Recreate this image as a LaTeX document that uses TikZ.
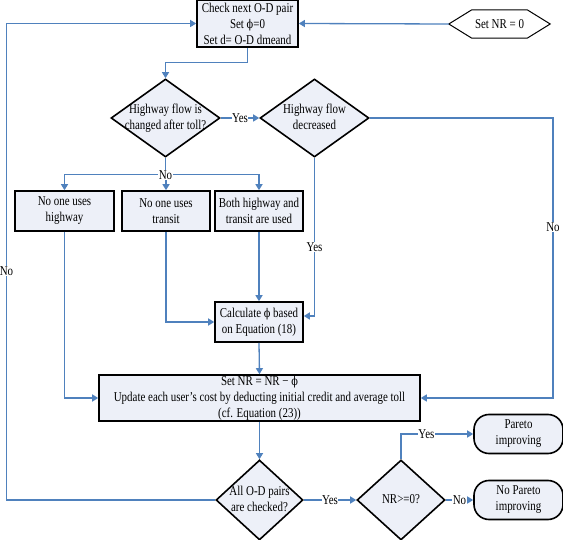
\documentclass[tikz,border=0pt]{standalone}
\usepackage{fontspec}
\setmainfont{Liberation Serif}[FakeStretch=0.81]
\newfontfamily\phifont{DejaVu Serif}[FakeStretch=0.81]
\usetikzlibrary{shapes.geometric,arrows.meta}
\definecolor{flowblue}{HTML}{4F81BD}
\definecolor{boxfill}{HTML}{EDF0F8}
\newcommand{\uphi}{{\phifont\fontsize{12}{16}\selectfont ϕ}}
\newcommand{\dtxt}[1]{\makebox[0pt]{\raisebox{-1.1ex}{\smash{\begin{tabular}{@{}c@{}}#1\end{tabular}}}}}
\begin{document}
\begin{tikzpicture}[x=1pt, y=-1pt, font=\fontsize{13.5}{16}\selectfont,
  procbox/.style={draw=black, line width=1.6pt, fill=boxfill, rectangle, align=center, inner sep=0pt},
  decision/.style={draw=black, line width=1.6pt, fill=boxfill, diamond, inner sep=0pt},
  endbox/.style={draw=black, line width=1.6pt, fill=boxfill, rectangle, rounded corners=15pt, align=center, inner sep=0pt, minimum width=89pt, minimum height=39pt},
  flow/.style={draw=flowblue, line width=1.3pt, -{Triangle[length=6pt,width=7pt]}},
  link/.style={draw=flowblue, line width=1.3pt},
  lbl/.style={fill=white, inner sep=0.5pt, text=black}]
\useasboundingbox (0,0) rectangle (563,540);
\coordinate (lline) at (6.5,0);
\coordinate (rline) at (553,0);
\node[procbox, minimum width=101pt, minimum height=47pt] (chk) at (247.5,23.5) {Check next O-D pair\\Set \uphi=0\\Set d= O-D dmeand};
\node[minimum width=101pt, minimum height=28pt, inner sep=0pt] (nr0) at (499.5,24) {Set NR = 0};
\draw[line width=1pt] (nr0.west) -- ([xshift=23pt]nr0.north west) -- ([xshift=-23pt]nr0.north east) -- (nr0.east) -- ([xshift=-23pt]nr0.south east) -- ([xshift=23pt]nr0.south west) -- cycle;
\node[decision, minimum width=109pt, minimum height=78pt] (q1) at (165.5,118) {\dtxt{Highway flow is\\changed after toll?}};
\node[decision, minimum width=109pt, minimum height=78pt] (q2) at (314.5,118) {\dtxt{Highway flow\\decreased}};
\node[procbox, minimum width=99pt, minimum height=40pt] (nohw) at (64.5,211) {No one uses\\highway};
\node[procbox, minimum width=88pt, minimum height=40pt] (notr) at (166,211) {No one uses\\transit};
\node[procbox, minimum width=88pt, minimum height=40pt] (both) at (259,211) {Both highway and\\transit are used};
\node[procbox, minimum width=88pt, minimum height=40pt] (calc) at (259,322) {Calculate \uphi{} based\\on Equation (18)};
\node[procbox, minimum width=321pt, minimum height=46pt] (upd) at (259.5,398) {Set NR = NR − \uphi\\Update each user’s cost by deducting initial credit and average toll\\(cf. Equation (23))};
\node[decision, minimum width=87pt, minimum height=80pt] (q3) at (259.5,500) {\dtxt{All O-D pairs\\are checked?}};
\node[decision, minimum width=88pt, minimum height=80pt] (q4) at (401,500) {\dtxt{NR>=0?}};
\node[endbox] (par) at (518.5,434) {Pareto\\improving};
\node[endbox] (nopar) at (518.5,500) {No Pareto\\improving};
\draw[flow] (nr0.west) -- (chk.east);
\draw[flow] (chk.south) -- ++(0,15) -| (q1.north);
\draw[flow] (q1.east) -- node[lbl]{Yes} (q2.west);
\draw[flow] (q2.east) -- (q2.east -| rline) -- node[lbl, pos=0.39]{No} (upd.east -| rline) -- (upd.east);
\draw[link] (q1.south) -- ++(0,17) coordinate (split);
\draw[flow] (split) -| (nohw.north);
\draw[flow] (split) -| (both.north);
\draw[flow] (split) -- (split -| notr.north) -- (notr.north);
\node[lbl] at (split) {No};
\draw[flow] (both.south) -- (calc.north);
\draw[flow] (notr.south) |- (calc.west);
\draw[flow] (q2.south) |- node[lbl, pos=0.283]{Yes} ([yshift=6pt]calc.east);
\draw[flow] (calc.south) -- (upd.north);
\draw[flow] (nohw.south) |- (upd.west);
\draw[flow] (upd.south) -- (q3.north);
\draw[flow] (q3.west) -- (q3.west -| lline) -- node[lbl, pos=0.48]{No} (chk.west -| lline) -- (chk.west);
\draw[flow] (q3.east) -- node[lbl]{Yes} (q4.west);
\draw[flow] (q4.north) |- node[lbl, pos=0.676]{Yes} (par.west);
\draw[flow] (q4.east) -- node[lbl]{No} (nopar.west);
\end{tikzpicture}
\end{document}
